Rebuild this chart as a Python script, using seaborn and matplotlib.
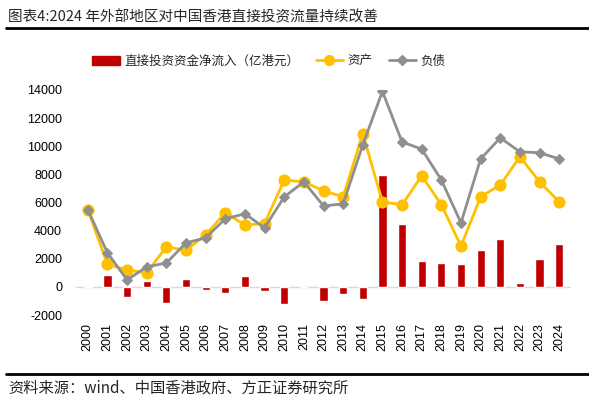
import numpy as np
import pandas as pd
import matplotlib
matplotlib.use("Agg")
import matplotlib.pyplot as plt
import seaborn as sns
from matplotlib.lines import Line2D
from matplotlib.patches import Patch

# ============================================
# DATA
# ============================================

years = [str(y) for y in range(2000, 2025)]

# net direct investment inflow (100m HKD)
net_inflow = [50, 850, -750, 450, -1150, 550, -230, -450, 780, -300,
              -1200, 0, -1000, -480, -870, 7950, 4500, 1850, 1730, 1610,
              2630, 3390, 300, 2000, 3040]

assets = [5500, 1600, 1200, 1000, 2850, 2600, 3700, 5270, 4400, 4500,
          7600, 7470, 6830, 6400, 10900, 6050, 5840, 7900, 5840, 2900,
          6400, 7260, 9250, 7470, 6050]

liabilities = [5500, 2420, 500, 1420, 1700, 3130, 3490, 4840, 5200, 4200,
               6400, 7470, 5760, 5900, 10100, 13900, 10300, 9800, 7600, 4550,
               9100, 10600, 9600, 9540, 9100]

yticks = list(range(-2000, 14001, 2000))

title = "图表4:2024 年外部地区对中国香港直接投资流量持续改善"
source = "资料来源：wind、中国香港政府、方正证券研究所"
bar_label = "直接投资资金净流入（亿港元）"
asset_label = "资产"
liab_label = "负债"

red = "#C00000"
yellow = "#FFC000"
gray = "#8F8F8F"

df = pd.DataFrame({
    "year": years,
    "pos": np.arange(len(years)),
    "net": net_inflow,
    "assets": assets,
    "liabilities": liabilities,
})

# ============================================
# PLOT
# ============================================

sns.set_style("white")
plt.rcParams["font.family"] = ["Liberation Sans", "Noto Sans CJK SC", "DejaVu Sans"]

fig = plt.figure(figsize=(5.89, 4.01), dpi=100)
ax = fig.add_axes([76 / 589, 86 / 401, (571 - 76) / 589, (315 - 90) / 401])

sns.barplot(data=df, x="year", y="net", color=red, width=0.42,
            saturation=1, ax=ax, zorder=2)

sns.lineplot(data=df, x="pos", y="assets", color=yellow, linewidth=2,
             marker="o", markersize=8, markeredgecolor=yellow, ax=ax, zorder=3)
sns.lineplot(data=df, x="pos", y="liabilities", color=gray, linewidth=2,
             marker="D", markersize=5.5, markeredgecolor=gray, ax=ax, zorder=4)

ax.axhline(0, color="#D9D9D9", linewidth=1, zorder=1)

ax.set_xlim(-0.6, len(years) - 0.4)
ax.set_ylim(-2000, 14000)
ax.set_yticks(yticks)
ax.set_yticklabels([str(v) for v in yticks], fontsize=9)
ax.set_xticks(np.arange(len(years)))
ax.set_xticklabels(years, rotation=90, fontsize=9)
ax.tick_params(axis="y", length=0, pad=10, colors="black")
ax.tick_params(axis="x", length=0, pad=6, colors="black")
ax.set_xlabel("")
ax.set_ylabel("")
for s in ax.spines.values():
    s.set_visible(False)

# legend
handles = [
    Patch(facecolor=red, edgecolor=red),
    Line2D([], [], color=yellow, linewidth=2, marker="o", markersize=7),
    Line2D([], [], color=gray, linewidth=2, marker="D", markersize=5),
]
fig.legend(handles, [bar_label, asset_label, liab_label],
           loc="center", bbox_to_anchor=(269 / 589, 1 - 61 / 401),
           ncol=3, frameon=False, handlelength=2.2,
           columnspacing=1.3, handletextpad=0.35,
           prop={"family": ["Noto Sans CJK SC", "DejaVu Sans"], "size": 9})

# title, source and rules
fig.text(8 / 589, 1 - 17 / 401, title, fontsize=10.5, va="center", ha="left",
         family=["Noto Sans CJK SC", "DejaVu Sans"])
fig.add_artist(Line2D([6 / 589, 1.0], [1 - 28 / 401, 1 - 28 / 401],
                      color="black", linewidth=2))
fig.add_artist(Line2D([6 / 589, 1.0], [1 - 374 / 401, 1 - 374 / 401],
                      color="black", linewidth=2))
fig.text(8 / 589, 1 - 388 / 401, source, fontsize=11, va="center", ha="left",
         style="italic", family=["Noto Sans CJK SC", "DejaVu Sans"])

fig.savefig("out.png", dpi=100)
